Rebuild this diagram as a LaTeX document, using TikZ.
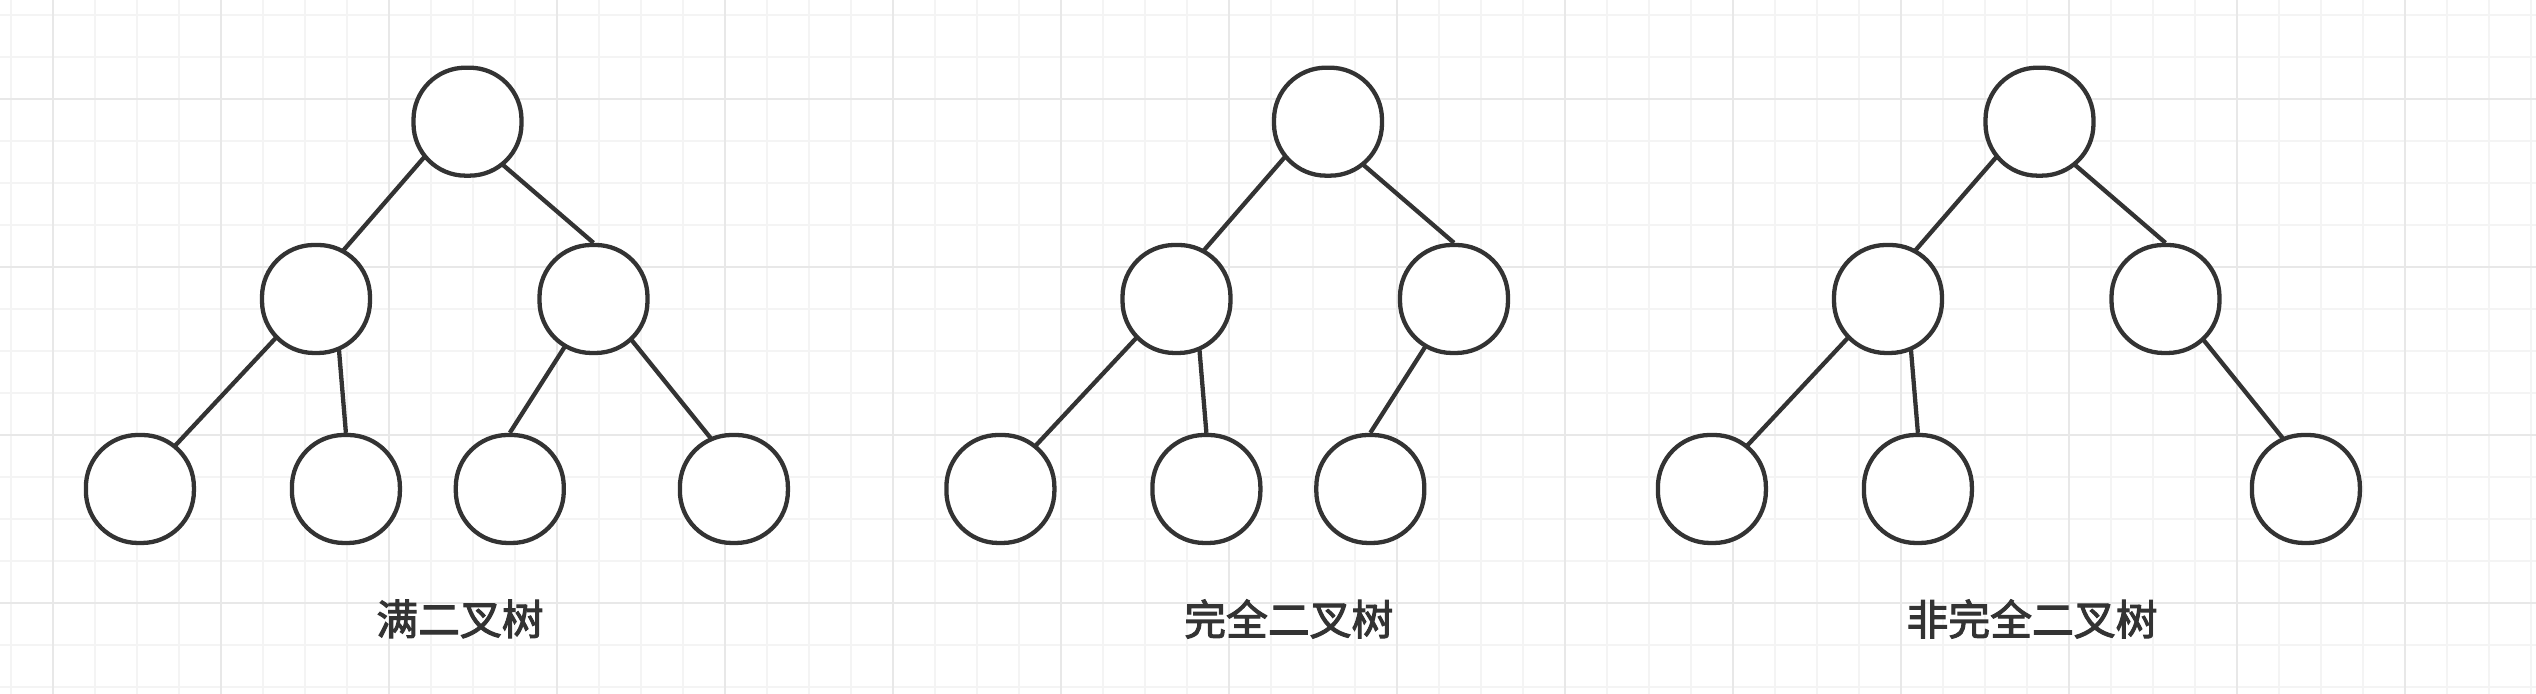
\documentclass[tikz,border=0pt]{standalone}
\usepackage{fontspec}
\newfontfamily\cjk{Noto Sans CJK SC}[FakeBold=2.5]
\usepackage{xcolor}
\usepackage{tikz}
\usetikzlibrary{positioning,calc,backgrounds}
\definecolor{ink}{HTML}{333333}
\definecolor{gridminor}{HTML}{F4F4F4}
\definecolor{gridmajor}{HTML}{E8E8E8}

\begin{document}
\begin{tikzpicture}[
    treenode/.style={rectangle, rounded corners=0.52cm, draw=ink,
        line width=1.22pt, fill=white, minimum size=1.08cm, inner sep=0pt},
    branch/.style={ink, line width=1.22pt},
    caption/.style={font=\cjk\fontsize{11.9}{14}\selectfont,
        text=ink, inner sep=0pt}
]
    \useasboundingbox (0,0) rectangle (25.36,6.94);

    % background grid
    \begin{scope}[on background layer]
        \fill[white] (0,0) rectangle (25.36,6.94);
        \clip (0,0) rectangle (25.36,6.94);
        \draw[gridminor, line width=0.57pt, step=0.42, shift={(0.107,0.07)}]
            (-1,-1) grid (26,8);
        \draw[gridmajor, line width=0.57pt, step=1.68, shift={(0.527,0.91)}]
            (-2,-2) grid (26,8);
    \end{scope}

    % full binary tree
    \node[treenode] (froot) at (4.675,5.723) {};
    \node[treenode] (fl)  at (3.16,3.95) {};
    \node[treenode] (fr)  at (5.935,3.95) {};
    \node[treenode] (fll) at (1.399,2.05) {};
    \node[treenode] (flr) at (3.459,2.05) {};
    \node[treenode] (frl) at (5.098,2.05) {};
    \node[treenode] (frr) at (7.339,2.05) {};
    \begin{scope}[on background layer]
        \draw[branch] ($(froot)+(219:0.54)$) -- ($(fl)+(61:0.54)$);
        \draw[branch] ($(froot)+(309:0.54)$) -- (fr.north);
        \draw[branch] ($(fl)+(224:0.54)$) -- ($(fll)+(51:0.54)$);
        \draw[branch] ($(fl)+(295:0.54)$) -- (flr.north);
        \draw[branch] ($(fr)+(239:0.54)$) -- (frl.north);
        \draw[branch] ($(fr)+(313:0.54)$) -- ($(frr)+(114:0.54)$);
    \end{scope}
    \node[caption] (fcap) at (4.60,0.75) {满二叉树};

    % complete binary tree
    \begin{scope}[xshift=8.605cm]
        \node[treenode] (croot) at (4.675,5.723) {};
        \node[treenode] (cl)  at (3.16,3.95) {};
        \node[treenode] (cr)  at (5.935,3.95) {};
        \node[treenode] (cll) at (1.399,2.05) {};
        \node[treenode] (clr) at (3.459,2.05) {};
        \node[treenode] (crl) at (5.098,2.05) {};
        \node[caption] (ccap) at (4.283,0.75) {完全二叉树};
    \end{scope}
    \begin{scope}[on background layer]
        \draw[branch] ($(croot)+(219:0.54)$) -- ($(cl)+(61:0.54)$);
        \draw[branch] ($(croot)+(309:0.54)$) -- (cr.north);
        \draw[branch] ($(cl)+(224:0.54)$) -- ($(cll)+(51:0.54)$);
        \draw[branch] ($(cl)+(295:0.54)$) -- (clr.north);
        \draw[branch] ($(cr)+(239:0.54)$) -- (crl.north);
    \end{scope}

    % non-complete binary tree
    \begin{scope}[xshift=15.72cm]
        \node[treenode] (nroot) at (4.675,5.723) {};
        \node[treenode] (nl)  at (3.16,3.95) {};
        \node[treenode] (nr)  at (5.935,3.95) {};
        \node[treenode] (nll) at (1.399,2.05) {};
        \node[treenode] (nlr) at (3.459,2.05) {};
        \node[treenode] (nrr) at (7.339,2.05) {};
        \node[caption] (ncap) at (4.60,0.75) {非完全二叉树};
    \end{scope}
    \begin{scope}[on background layer]
        \draw[branch] ($(nroot)+(219:0.54)$) -- ($(nl)+(61:0.54)$);
        \draw[branch] ($(nroot)+(309:0.54)$) -- (nr.north);
        \draw[branch] ($(nl)+(224:0.54)$) -- ($(nll)+(51:0.54)$);
        \draw[branch] ($(nl)+(295:0.54)$) -- (nlr.north);
        \draw[branch] ($(nr)+(313:0.54)$) -- ($(nrr)+(114:0.54)$);
    \end{scope}
\end{tikzpicture}
\end{document}
